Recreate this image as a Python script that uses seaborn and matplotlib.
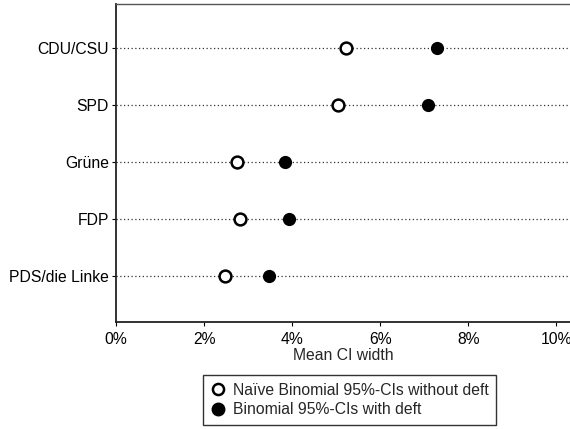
import matplotlib
matplotlib.use("Agg")
import matplotlib.pyplot as plt
from matplotlib.lines import Line2D
from matplotlib.ticker import FuncFormatter
import seaborn as sns
import pandas as pd

parties = ["CDU/CSU", "SPD", "Grüne", "FDP", "PDS/die Linke"]
naive = [0.0522, 0.0505, 0.0275, 0.0281, 0.0247]
deft = [0.0730, 0.0709, 0.0384, 0.0392, 0.0347]
xticks = [0, 0.02, 0.04, 0.06, 0.08, 0.10]
label_naive = "Naïve Binomial 95%-CIs without deft"
label_deft = "Binomial 95%-CIs with deft"

sns.set_theme(style="ticks")
plt.rcParams['font.family'] = ['Liberation Sans', 'DejaVu Sans']

FS = 11.3

df = pd.DataFrame({"party": parties, "naive": naive, "deft": deft})

fig = plt.figure(figsize=(5.70, 4.29), dpi=100)
ax = fig.add_axes([116 / 570, 1 - 322 / 429, 1 - 116 / 570, 318 / 429])

for i, p in enumerate(parties):
    ax.axhline(i, color="#333333", linestyle=(0, (1, 2)), linewidth=0.9, zorder=1)

sns.stripplot(data=df, x="naive", y="party", order=parties, orient="h", jitter=False,
              color="white", edgecolor="black", linewidth=1.8, size=8.5, ax=ax, zorder=3)
sns.stripplot(data=df, x="deft", y="party", order=parties, orient="h", jitter=False,
              color="black", edgecolor="black", linewidth=0, size=9.5, ax=ax, zorder=3)

ax.set_xlim(0, 0.1031)
ax.set_ylim(4.81, -0.77)
ax.set_xticks(xticks)
ax.xaxis.set_major_formatter(FuncFormatter(lambda v, _: f"{v*100:.0f}%"))
ax.set_xlabel("Mean CI width", fontsize=FS, labelpad=1)
ax.set_ylabel("")
ax.tick_params(axis="both", labelsize=FS, length=3, width=0.8, colors="black")
ax.tick_params(axis="x", pad=4)
ax.tick_params(axis="y", pad=2)
for s in ["left", "bottom"]:
    ax.spines[s].set_linewidth(1.3)
    ax.spines[s].set_color("#222222")
ax.spines["top"].set_visible(True)
ax.spines["top"].set_linewidth(1.0)
ax.spines["top"].set_color("#555555")
ax.spines["right"].set_visible(False)

handles = [
    Line2D([], [], linestyle="none", marker="o", markerfacecolor="white",
           markeredgecolor="black", markeredgewidth=1.8, markersize=8),
    Line2D([], [], linestyle="none", marker="o", markerfacecolor="black",
           markeredgecolor="black", markersize=9),
]
leg = fig.legend(handles, [label_naive, label_deft], loc="center",
                 bbox_to_anchor=(349.5 / 570, 1 - 400 / 429), fontsize=FS,
                 frameon=True, fancybox=False, edgecolor="black",
                 handletextpad=0.4, handlelength=1.0, borderpad=0.5,
                 labelspacing=0.3)
leg.get_frame().set_linewidth(1.0)

fig.savefig("out.png", dpi=100)
